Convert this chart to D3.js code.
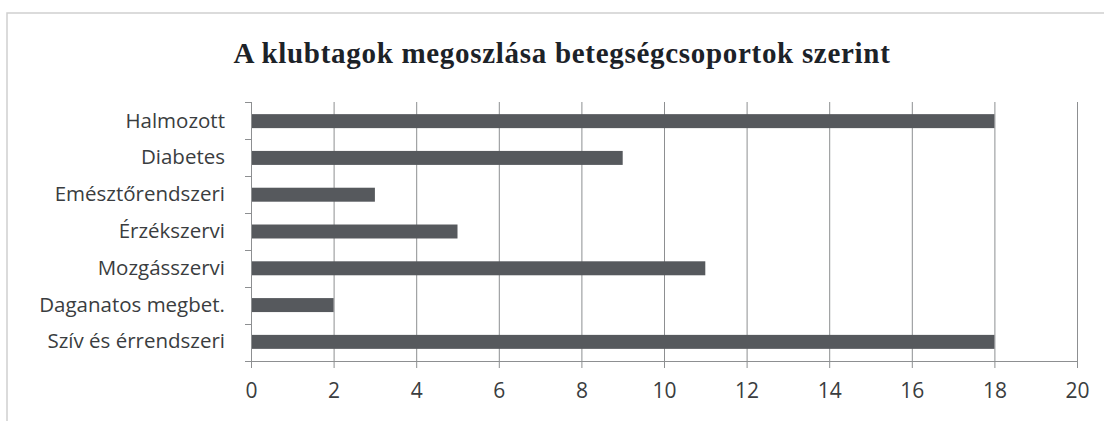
<!DOCTYPE html>
<html>
<head>
<meta charset="utf-8">
<script src="https://cdn.jsdelivr.net/npm/d3@7"></script>
<style>
    body { margin: 0; background: #fff; }
</style>
</head>
<body>
<div id="chartContainer"></div>
<script>
const title = 'A klubtagok megoszlása betegségcsoportok szerint';
const categories = ['Halmozott', 'Diabetes', 'Emésztőrendszeri', 'Érzékszervi', 'Mozgásszervi', 'Daganatos megbet.', 'Szív és érrendszeri'];
const values = [18, 9, 3, 5, 11, 2, 18];
const xTicks = [0, 2, 4, 6, 8, 10, 12, 14, 16, 18, 20];

function init(width, height) {
    const margin = { top: 102, right: 27, bottom: 60, left: 251 };

    const svg = d3.select('#chartContainer')
        .append('svg')
        .attr('width', width)
        .attr('height', height)
        .style('display', 'block');

    // scanned frame
    svg.append('rect')
        .attr('x', 7).attr('y', 13)
        .attr('width', 1300).attr('height', 600)
        .attr('fill', 'none')
        .attr('stroke', '#cfcfcf')
        .attr('stroke-width', 1.5);

    svg.append('text')
        .attr('x', 562).attr('y', 63)
        .attr('text-anchor', 'middle')
        .style('font', 'bold 29px "Liberation Serif", serif')
        .style('letter-spacing', '0.7px')
        .attr('fill', '#1c2228')
        .text(title);

    const scX = d3.scaleLinear()
        .domain([0, 20])
        .range([margin.left, width - margin.right]);

    const scY = d3.scaleBand()
        .domain(categories)
        .range([margin.top, height - margin.bottom])
        .paddingInner(0.62)
        .paddingOuter(0.33);

    const scEdge = d3.scaleLinear()
        .domain([0, categories.length])
        .range([margin.top, height - margin.bottom]);

    // grid
    svg.append('g')
        .attr('transform', `translate(0, ${margin.top})`)
        .call(d3.axisBottom(scX).tickValues(xTicks).tickFormat('').tickSize(height - margin.bottom - margin.top))
        .call(g => g.select('.domain').remove())
        .call(g => g.selectAll('line').attr('stroke', '#8d8f91'));

    // bars
    svg.append('g')
        .selectAll('rect')
        .data(categories)
        .enter()
        .append('rect')
        .attr('x', scX(0))
        .attr('y', d => scY(d))
        .attr('width', (d, i) => scX(values[i]) - scX(0))
        .attr('height', scY.bandwidth())
        .attr('fill', '#56595d');

    // x axis
    svg.append('g')
        .attr('transform', `translate(0, ${height - margin.bottom})`)
        .call(d3.axisBottom(scX).tickValues(xTicks).tickSize(7).tickPadding(15))
        .call(g => g.select('.domain').attr('stroke', '#8d8f91'))
        .call(g => g.selectAll('line').attr('stroke', '#8d8f91'))
        .call(g => g.selectAll('text')
            .style('font', '21px "Open Sans", sans-serif')
            .attr('fill', '#3a3d40'));

    // y axis
    svg.append('g')
        .attr('transform', `translate(${margin.left}, 0)`)
        .call(d3.axisLeft(scEdge).ticks(categories.length).tickFormat('').tickSize(6))
        .call(g => g.selectAll('path, line').attr('stroke', '#8d8f91'));

    svg.append('g')
        .attr('transform', `translate(${margin.left}, 0)`)
        .call(d3.axisLeft(scY).tickSize(0).tickPadding(26))
        .call(g => g.select('.domain').remove())
        .call(g => g.selectAll('text')
            .style('font', '20.5px "Open Sans", sans-serif')
            .attr('fill', '#3a3d40'));
}

init(1104, 421);
</script>
</body>
</html>
